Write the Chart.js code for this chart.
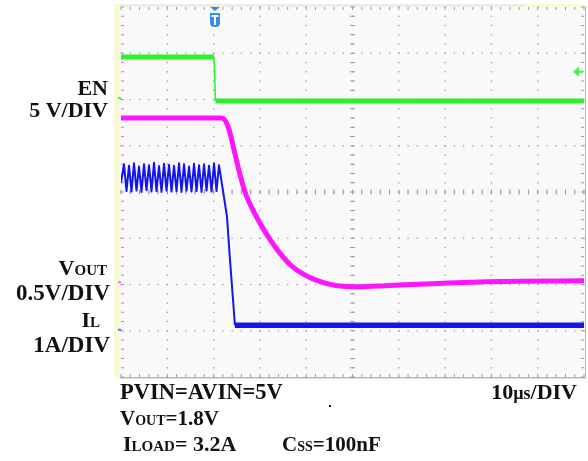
<!DOCTYPE html>
<html>
<head>
<meta charset="utf-8">
<script src="https://cdn.jsdelivr.net/npm/chart.js@4.4.0/dist/chart.umd.min.js"></script>
<style>
  html, body { margin: 0; padding: 0; background: #fff; }
  #wrap { width: 588px; height: 461px; position: relative; }
</style>
</head>
<body>
<div id="wrap"><canvas id="scope"></canvas></div>
<script>
// time in us (10 us/div), trace position in screen divisions (0 = bottom edge, 8 = top)
var enTime = [0, 20.1, 20.4, 100];
var enDiv  = [6.92, 6.92, 5.97, 5.97];

var voutTime = [0, 21.6, 22.6, 23.4, 24.2, 25.0, 25.8, 26.6, 27.4, 28.5, 30.0, 32.2, 34.3, 37.1, 40.8, 44.5, 47.9, 51.0, 58.1, 72.6, 86.2, 100];
var voutDiv  = [5.60, 5.60, 5.53, 5.33, 5.00, 4.66, 4.34, 4.06, 3.84, 3.61, 3.33, 2.97, 2.68, 2.38, 2.15, 2.02, 1.96, 1.95, 1.98, 2.04, 2.07, 2.08];

// inductor current ripple before the switch stops, then the fall
var ilRippleTime = [0.0, 0.65, 1.19, 1.73, 2.27, 2.81, 3.35, 3.89, 4.43, 4.97, 5.51, 6.05, 6.59, 7.13, 7.67, 8.21, 8.75, 9.29, 9.83, 10.37,
                    10.91, 11.45, 11.99, 12.53, 13.07, 13.61, 14.15, 14.69, 15.23, 15.77, 16.31, 16.85, 17.39, 17.93, 18.47, 19.01, 19.55, 20.09, 20.63, 21.17,
                    21.9, 22.9, 23.5, 24.2, 24.6];
var ilRippleDiv  = [4.20, 4.60, 4.02, 4.57, 4.01, 4.62, 4.03, 4.55, 4.00, 4.60, 4.04, 4.58, 4.01, 4.63, 4.02, 4.56, 4.00, 4.61, 4.03, 4.59,
                    4.01, 4.57, 4.02, 4.62, 4.00, 4.60, 4.03, 4.55, 4.01, 4.61, 4.02, 4.58, 4.00, 4.60, 4.03, 4.57, 4.01, 4.62, 4.02, 4.58,
                    4.11, 3.46, 2.59, 1.66, 1.12];
var ilTime = [24.6, 100];
var ilDiv  = [1.12, 1.12];

var trigTime = 20.3;
var trigLevel = 6.6;

function pts(xs, ys) {
  return xs.map(function (t, i) { return { x: t, y: ys[i] }; });
}

function rich(ctx, parts, x, y, align) {
  var w = 0;
  parts.forEach(function (p) {
    ctx.font = 'bold ' + p[1] + 'px "Liberation Serif"';
    w += ctx.measureText(p[0]).width;
  });
  var cx = align === 'right' ? x - w : x;
  parts.forEach(function (p) {
    ctx.font = 'bold ' + p[1] + 'px "Liberation Serif"';
    ctx.fillText(p[0], cx, y);
    cx += ctx.measureText(p[0]).width;
  });
}

var scopeScreen = {
  id: 'scopeScreen',
  beforeDatasetsDraw: function (chart) {
    var ctx = chart.ctx, a = chart.chartArea;
    var xs = chart.scales.x, ys = chart.scales.y;
    var i, j, px, py;
    ctx.save();
    // screen background and bezel stripes
    ctx.fillStyle = '#f9f9f9';
    ctx.fillRect(a.left - 1, a.top - 1, a.right - a.left + 3, a.bottom - a.top + 2);
    ctx.fillStyle = '#fbf8d6';
    ctx.fillRect(a.left - 7, a.top - 3, 6, a.bottom - a.top + 4);
    ctx.fillStyle = '#eeede4';
    ctx.fillRect(a.left - 1, a.top - 3, a.right - a.left + 3, 3);
    ctx.fillStyle = '#fbf8d6';
    ctx.fillRect(a.right - 60, a.top - 3, 62, 3);
    ctx.fillStyle = '#b8b8b8';
    ctx.fillRect(a.left - 1, a.bottom, a.right - a.left + 3, 1.5);
    ctx.fillRect(a.right + 1, a.top - 1, 1, a.bottom - a.top + 1);

    ctx.fillStyle = '#9a9aa8';
    // dotted division lines
    for (i = 1; i < 10; i++) {
      px = xs.getPixelForValue(i * 10);
      for (j = 0; j <= 40; j++) {
        py = ys.getPixelForValue(j * 0.2);
        ctx.fillRect(px - 0.6, py - 0.6, 1.3, 1.3);
      }
    }
    for (i = 1; i < 8; i++) {
      py = ys.getPixelForValue(i);
      for (j = 0; j <= 50; j++) {
        px = xs.getPixelForValue(j * 2);
        ctx.fillRect(px - 0.6, py - 0.6, 1.3, 1.3);
      }
    }
    // centre cross ticks
    var cx = xs.getPixelForValue(50), cy = ys.getPixelForValue(4);
    for (j = 0; j <= 40; j++) {
      py = ys.getPixelForValue(j * 0.2);
      ctx.fillRect(cx - 2.5, py - 0.5, 5, 1);
    }
    for (j = 0; j <= 50; j++) {
      px = xs.getPixelForValue(j * 2);
      ctx.fillRect(px - 0.5, cy - 2.5, 1, 5);
    }
    // edge ticks
    for (j = 0; j <= 50; j++) {
      px = xs.getPixelForValue(j * 2);
      ctx.fillRect(px - 0.5, a.top, 1, 3);
      ctx.fillRect(px - 0.5, a.bottom - 3, 1, 3);
    }
    for (j = 0; j <= 40; j++) {
      py = ys.getPixelForValue(j * 0.2);
      ctx.fillRect(a.left, py - 0.5, 3, 1);
      ctx.fillRect(a.right - 3, py - 0.5, 3, 1);
    }
    ctx.restore();
  },
  afterDraw: function (chart) {
    var ctx = chart.ctx, a = chart.chartArea;
    var xs = chart.scales.x, ys = chart.scales.y;
    ctx.save();
    // trigger position marker
    var tx = xs.getPixelForValue(trigTime);
    ctx.fillStyle = '#2f8fe8';
    ctx.beginPath();
    ctx.moveTo(tx - 5, a.top); ctx.lineTo(tx + 5, a.top); ctx.lineTo(tx, a.top + 4); ctx.closePath();
    ctx.fill();
    ctx.beginPath();
    ctx.moveTo(tx - 5, a.top + 6);
    ctx.lineTo(tx + 5, a.top + 6);
    ctx.lineTo(tx + 5, a.top + 16);
    ctx.quadraticCurveTo(tx + 5, a.top + 20, tx, a.top + 20);
    ctx.quadraticCurveTo(tx - 5, a.top + 20, tx - 5, a.top + 16);
    ctx.closePath();
    ctx.fill();
    ctx.fillStyle = '#ffffff';
    ctx.fillRect(tx - 3.5, a.top + 8, 7, 2);
    ctx.fillRect(tx - 1, a.top + 8, 2, 10);
    // trigger level arrow
    var ly = ys.getPixelForValue(trigLevel);
    ctx.fillStyle = '#44f044';
    ctx.beginPath();
    ctx.moveTo(a.right - 11, ly); ctx.lineTo(a.right - 5, ly - 5); ctx.lineTo(a.right - 5, ly + 5); ctx.closePath();
    ctx.fill();
    ctx.fillRect(a.right - 6, ly - 1, 5, 2);
    // channel ground markers
    ctx.fillStyle = '#44f044'; ctx.fillRect(a.left - 3, ys.getPixelForValue(6.03) - 1, 3, 2);
    ctx.fillStyle = '#ff66ff'; ctx.fillRect(a.left - 3, ys.getPixelForValue(2.05) - 1, 3, 2);
    ctx.fillStyle = '#6666ff'; ctx.fillRect(a.left - 3, ys.getPixelForValue(1.02) - 1, 3, 2);

    // labels
    ctx.fillStyle = '#111';
    ctx.textBaseline = 'alphabetic';
    rich(ctx, [['EN', 22]], 108, 95, 'right');
    rich(ctx, [['5 V/DIV', 22]], 108, 117, 'right');
    rich(ctx, [['V', 22], ['OUT', 15]], 107, 275, 'right');
    rich(ctx, [['0.5V/DIV', 23]], 110, 300, 'right');
    rich(ctx, [['I', 22], ['L', 15]], 100, 327, 'right');
    rich(ctx, [['1A/DIV', 23]], 110, 352, 'right');
    rich(ctx, [['PVIN=AVIN=5V', 22.5]], 120, 399, 'left');
    rich(ctx, [['10', 22], ['\u00b5s', 18], ['/DIV', 22]], 577, 399, 'right');
    rich(ctx, [['V', 21], ['OUT', 14], ['=1.8V', 21]], 120, 425, 'left');
    rich(ctx, [['I', 22], ['LOAD', 15], ['= 3.2A', 22]], 123, 451, 'left');
    rich(ctx, [['C', 21], ['SS', 14], ['=100nF', 21]], 282, 451, 'left');
    ctx.fillRect(329, 405, 2, 2);
    ctx.restore();
  }
};

new Chart(document.getElementById('scope'), {
  type: 'line',
  data: {
    datasets: [
      { label: 'EN high', data: pts(enTime.slice(0, 2), enDiv.slice(0, 2)), borderColor: '#2cf22c', borderWidth: 5 },
      { label: 'EN edge', data: pts(enTime.slice(1, 3), enDiv.slice(1, 3)), borderColor: '#2cf22c', borderWidth: 1.5 },
      { label: 'EN low', data: pts(enTime.slice(2), enDiv.slice(2)), borderColor: '#2cf22c', borderWidth: 5 },
      { label: 'VOUT', data: pts(voutTime, voutDiv), borderColor: '#ff14ff', borderWidth: 5, cubicInterpolationMode: 'monotone' },
      { label: 'IL ripple', data: pts(ilRippleTime, ilRippleDiv), borderColor: '#1414f0', borderWidth: 2 },
      { label: 'IL', data: pts(ilTime, ilDiv), borderColor: '#1414f0', borderWidth: 5.5 }
    ]
  },
  options: {
    responsive: true,
    maintainAspectRatio: false,
    animation: false,
    layout: { padding: { left: 121, right: 4, top: 7, bottom: 84 } },
    elements: { point: { radius: 0 }, line: { tension: 0, borderJoinStyle: 'round' } },
    scales: {
      x: { type: 'linear', min: 0, max: 100, display: false },
      y: { type: 'linear', min: 0, max: 8, display: false }
    },
    plugins: { legend: { display: false }, tooltip: { enabled: false } }
  },
  plugins: [scopeScreen]
});
</script>
</body>
</html>
